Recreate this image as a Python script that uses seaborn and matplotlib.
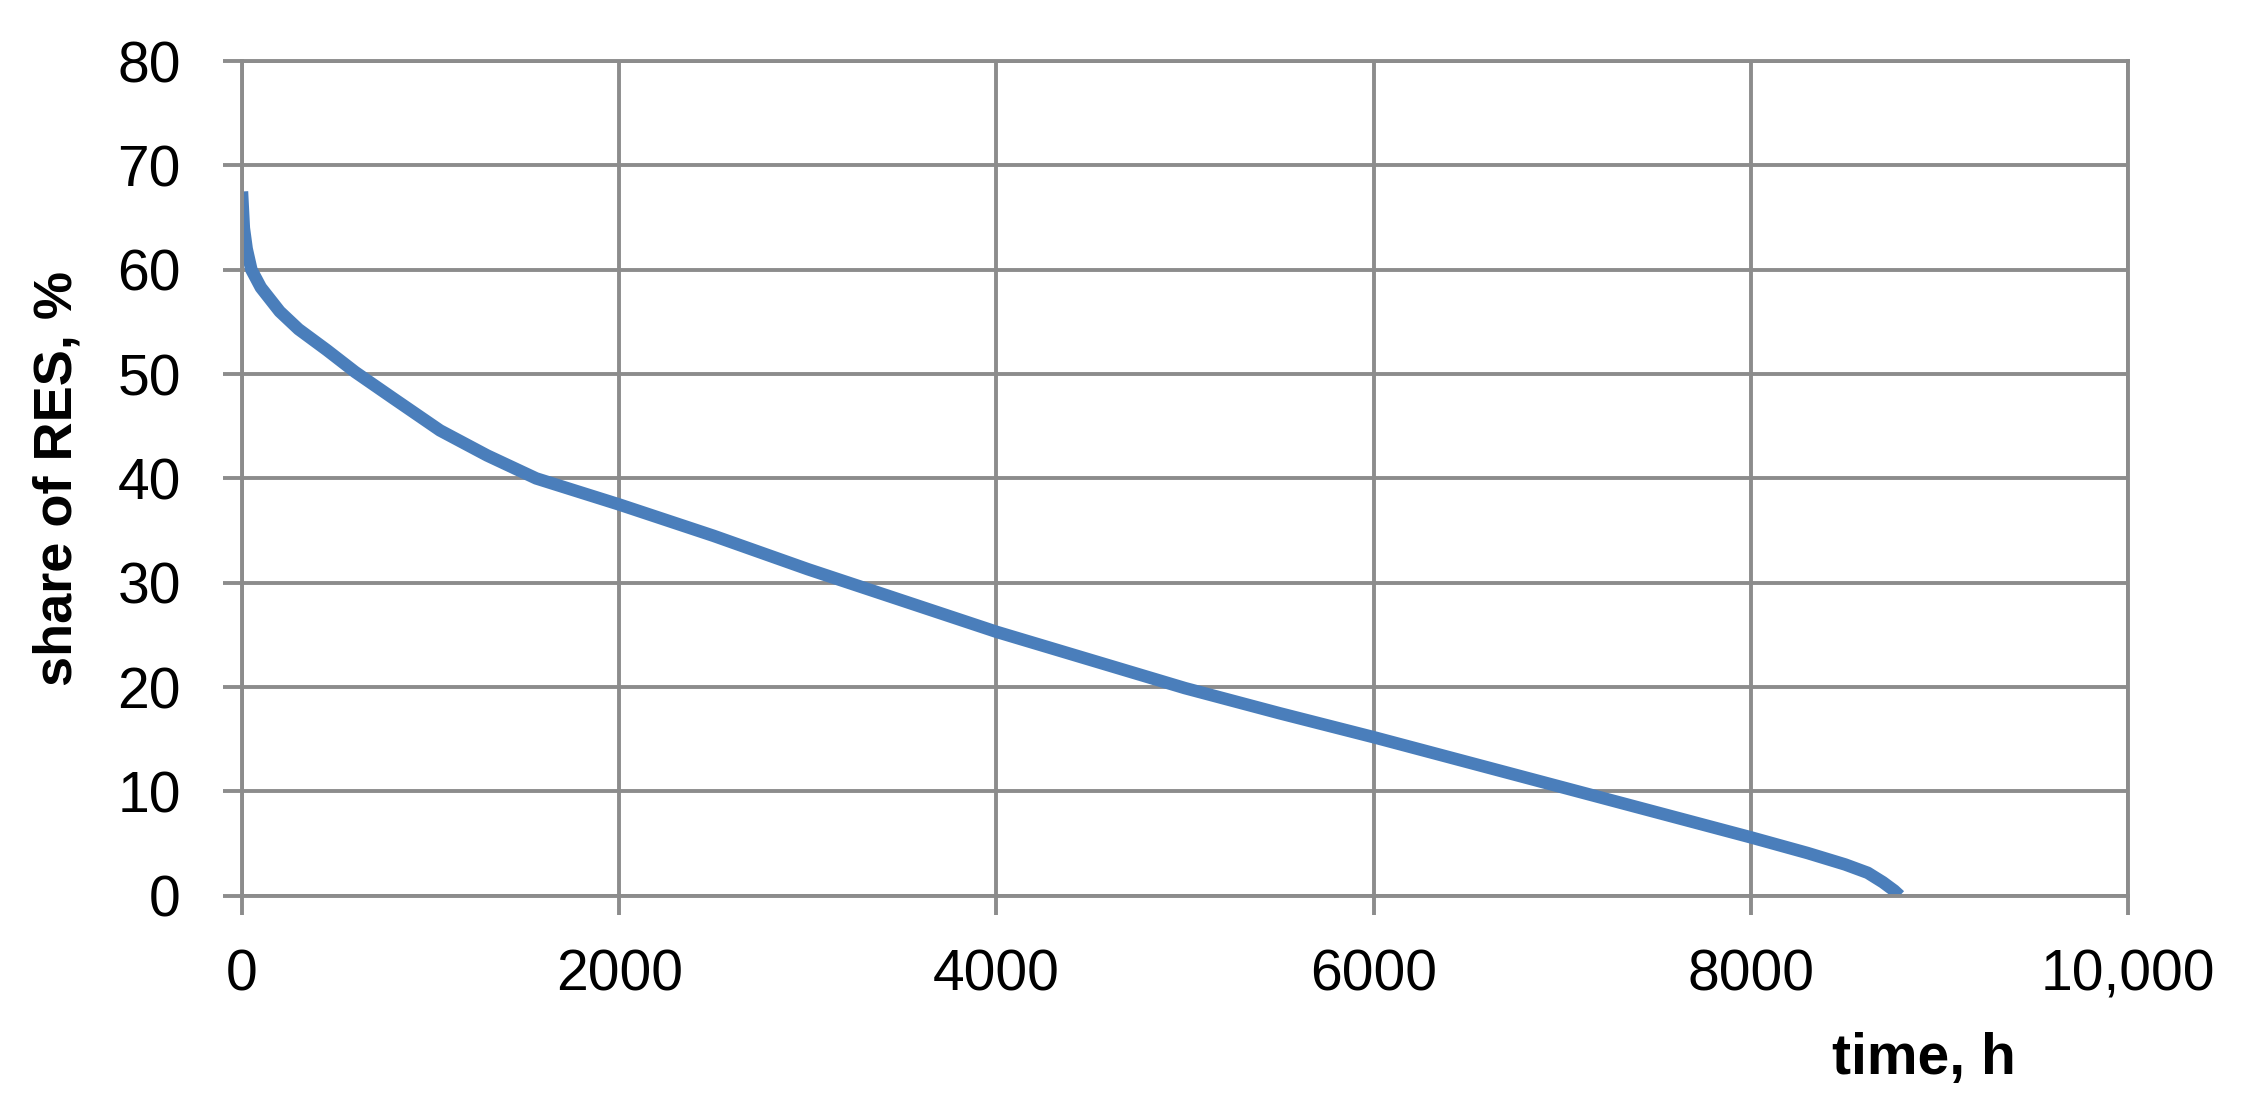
import matplotlib
matplotlib.use("Agg")
import pandas as pd
import seaborn as sns
import matplotlib.pyplot as plt

# load duration curve of RES share
hours = [0, 10, 25, 50, 100, 200, 300, 450, 600, 800, 1050, 1300, 1560,
         2000, 2500, 3000, 3500, 4000, 4500, 5000, 5500, 6000, 6500,
         7000, 7500, 8000, 8300, 8500, 8620, 8700, 8760, 8790]
share = [67.5, 64, 62, 60, 58.3, 56, 54.3, 52.3, 50.2, 47.7, 44.6, 42.2, 40,
         37.5, 34.5, 31.3, 28.3, 25.3, 22.6, 19.9, 17.5, 15.2, 12.8,
         10.4, 8.0, 5.6, 4.1, 3.0, 2.2, 1.3, 0.5, 0]

x_ticks = [0, 2000, 4000, 6000, 8000, 10000]
x_tick_labels = ["0", "2000", "4000", "6000", "8000", "10,000"]
y_ticks = [0, 10, 20, 30, 40, 50, 60, 70, 80]

df = pd.DataFrame({"time": hours, "share": share})

sns.set_style("white")
plt.rcParams['font.family'] = ['Liberation Sans', 'DejaVu Sans']

grid_gray = "#8c8c8c"

fig = plt.figure(figsize=(22.55, 11.10), dpi=100)
ax = fig.add_axes([0.1073, 0.193, 0.8364, 0.752])

sns.lineplot(data=df, x="time", y="share", color="#4a7ebb", linewidth=9,
             ax=ax, solid_capstyle="butt")

ax.set_xlim(0, 10000)
ax.set_ylim(0, 80)
ax.set_xticks(x_ticks)
ax.set_xticklabels(x_tick_labels)
ax.set_yticks(y_ticks)

ax.grid(True, color=grid_gray, linewidth=2.8)
ax.set_axisbelow(True)
for s in ax.spines.values():
    s.set_visible(True)
    s.set_color(grid_gray)
    s.set_linewidth(2.8)

ax.tick_params(axis="both", direction="out", length=14, width=2.8,
               color=grid_gray, labelcolor="black", labelsize=41,
               bottom=True, left=True)
ax.tick_params(axis="x", pad=24)
ax.tick_params(axis="y", pad=30)

ax.set_xlabel("time, h", fontsize=41, fontweight="bold", va="center", color="black")
ax.xaxis.set_label_coords(0.892, -0.196)
ax.set_ylabel("share of RES, %", fontsize=39, fontweight="bold", va="center", color="black")
ax.yaxis.set_label_coords(-0.098, 0.5)

fig.savefig("out.png", dpi=100, facecolor="white")
